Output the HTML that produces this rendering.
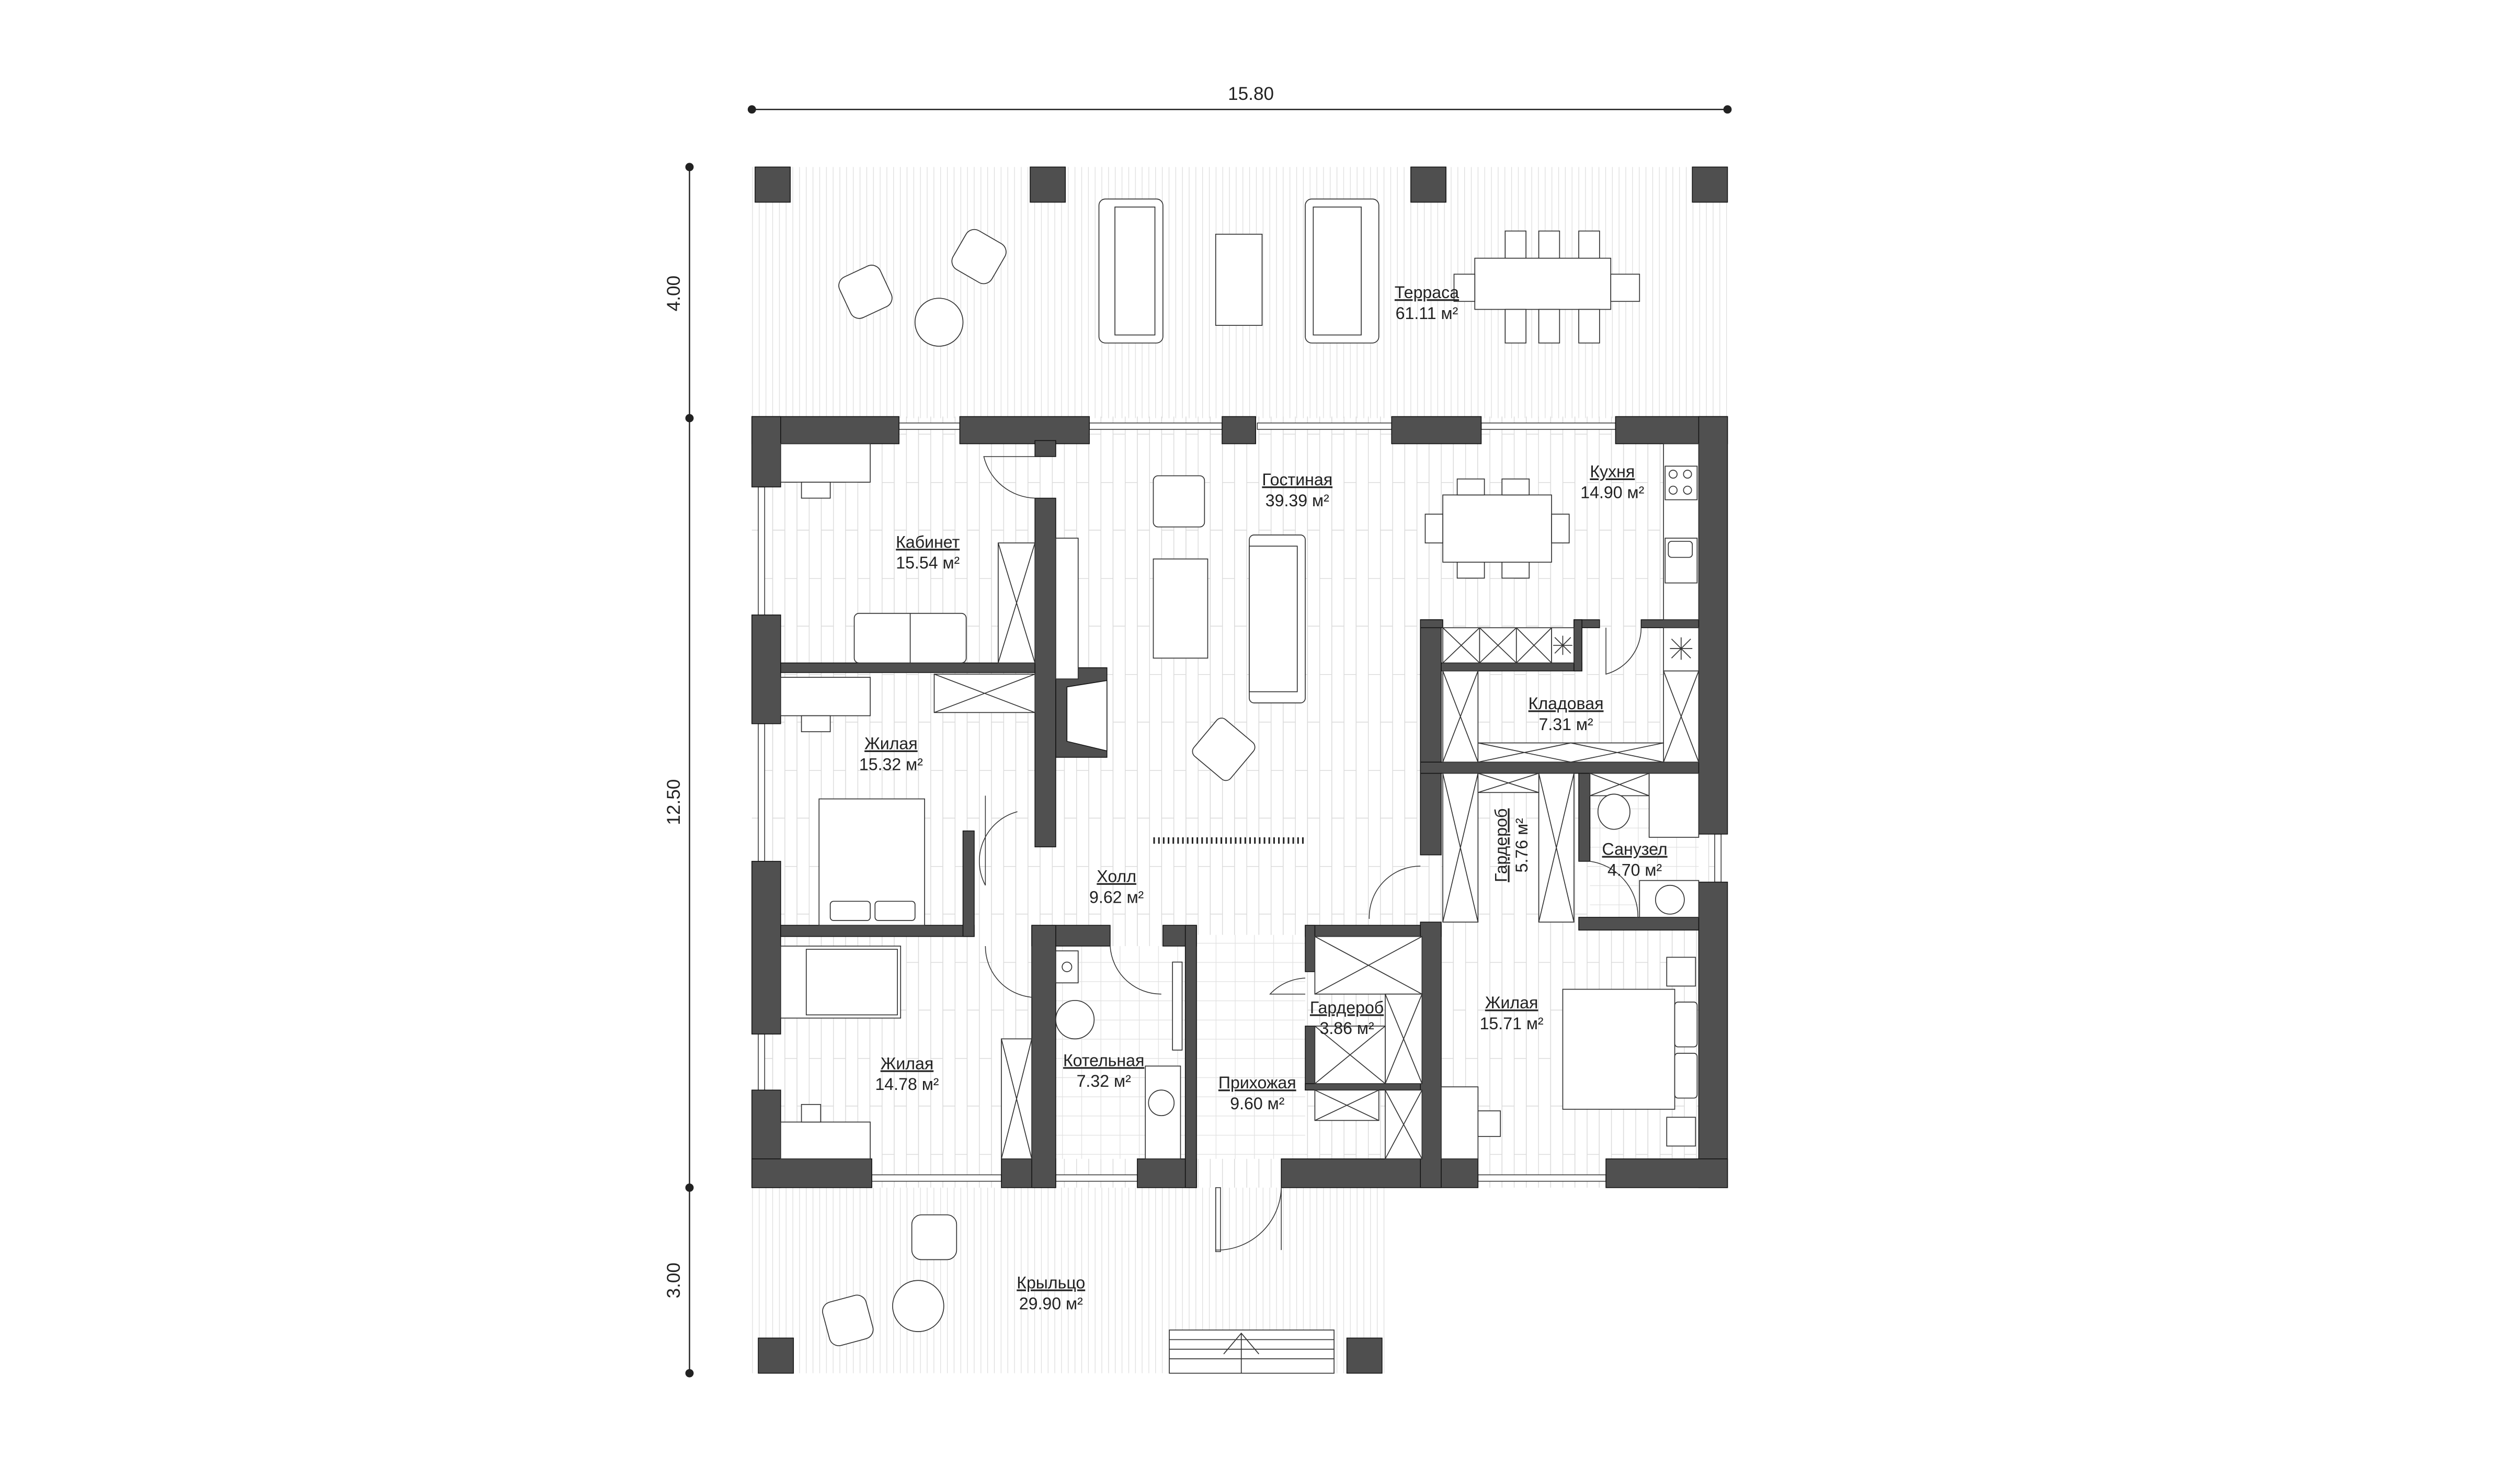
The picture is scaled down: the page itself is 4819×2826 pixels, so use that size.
<!DOCTYPE html>
<html><head><meta charset="utf-8"><style>
html,body{margin:0;padding:0;background:#fff}
svg{display:block}
text{font-family:"Liberation Sans",sans-serif;fill:#222}
</style></head><body>
<svg width="4819" height="2826" viewBox="-4.1 -1.4 1575.6 923.9" preserveAspectRatio="none" xmlns="http://www.w3.org/2000/svg">
<defs>
<pattern id="pl" width="15.2" height="60" patternUnits="userSpaceOnUse">
<path d="M0.2 0V60M7.8 0V60M0 0.2H7.6M7.6 30H15.2" stroke="#d9d9d9" stroke-width="0.5" fill="none"/>
</pattern>
<pattern id="tr" width="4.2" height="200" patternUnits="userSpaceOnUse">
<path d="M0.2 0V200" stroke="#dcdcdc" stroke-width="0.4"/>
</pattern>
<pattern id="tl" width="12" height="12" patternUnits="userSpaceOnUse">
<path d="M0 0.2H12M0.2 0V12" stroke="#e0e0e0" stroke-width="0.4" fill="none"/>
</pattern>
</defs>
<rect x="-10" y="-10" width="1600" height="950" fill="#fff"/>

<!-- dimensions -->
<g stroke="#222" stroke-width="0.8" fill="#222">
<line x1="466" y1="67" x2="1076" y2="67"/>
<circle cx="466" cy="67" r="2.2"/><circle cx="1076" cy="67" r="2.2"/>
<line x1="427" y1="103" x2="427" y2="857"/>
<circle cx="427" cy="103" r="2.2"/><circle cx="427" cy="260" r="2.2"/><circle cx="427" cy="741" r="2.2"/><circle cx="427" cy="857" r="2.2"/>
</g>
<text x="778" y="61" font-size="11.5" text-anchor="middle">15.80</text>
<text transform="translate(421,182) rotate(-90)" font-size="11.5" text-anchor="middle">4.00</text>
<text transform="translate(421,500) rotate(-90)" font-size="11.5" text-anchor="middle">12.50</text>
<text transform="translate(421,799) rotate(-90)" font-size="11.5" text-anchor="middle">3.00</text>

<!-- floors -->
<rect x="466" y="103" width="610" height="157" fill="url(#tr)"/>
<rect x="466" y="741" width="396" height="116" fill="url(#tr)"/>
<rect x="466" y="259" width="610" height="482" fill="url(#pl)"/>
<rect x="744" y="583" width="68" height="140" fill="#fff"/>
<rect x="744" y="583" width="68" height="140" fill="url(#tl)"/>
<rect x="656" y="590" width="81" height="133" fill="#fff"/>
<rect x="656" y="590" width="81" height="133" fill="url(#tl)"/>
<rect x="990" y="482" width="68" height="90" fill="#fff"/>
<rect x="990" y="482" width="68" height="90" fill="url(#tl)"/>

<!-- columns -->
<g fill="#4f4f4f" stroke="#111" stroke-width="0.5">
<rect x="468" y="103" width="22" height="22"/><rect x="640" y="103" width="22" height="22"/>
<rect x="878" y="103" width="22" height="22"/><rect x="1054" y="103" width="22" height="22"/>
<rect x="470" y="835" width="22" height="22"/><rect x="838" y="835" width="22" height="22"/>
</g>

<!-- windows -->
<g fill="#fff" stroke="#333" stroke-width="0.5">
<rect x="558" y="263" width="38" height="4"/><rect x="677" y="263" width="83" height="4"/>
<rect x="782" y="263" width="84" height="4"/><rect x="922" y="263" width="84" height="4"/>
<rect x="470" y="303" width="4" height="80"/><rect x="470" y="451" width="4" height="86"/>
<rect x="470" y="645" width="4" height="35"/>
<rect x="1068" y="520" width="4" height="30"/>
<rect x="541" y="733" width="81" height="4"/><rect x="656" y="733" width="51" height="4"/>
<rect x="920" y="733" width="80" height="4"/>
</g>

<!-- walls -->
<g fill="#505050" stroke="#111" stroke-width="0.5">
<rect x="466" y="259" width="92" height="17"/><rect x="596" y="259" width="81" height="17"/>
<rect x="760" y="259" width="21" height="17"/><rect x="866" y="259" width="56" height="17"/>
<rect x="1006" y="259" width="70" height="17"/>
<rect x="466" y="259" width="18" height="44"/><rect x="466" y="383" width="18" height="68"/>
<rect x="466" y="537" width="18" height="108"/><rect x="466" y="680" width="18" height="61"/>
<rect x="1058" y="259" width="18" height="261"/><rect x="1058" y="550" width="18" height="191"/>
<rect x="466" y="723" width="75" height="18"/><rect x="622" y="723" width="34" height="18"/>
<rect x="707" y="723" width="37" height="18"/><rect x="797" y="723" width="123" height="18"/>
<rect x="1000" y="723" width="76" height="18"/>
<rect x="643" y="274" width="13" height="10"/>
<rect x="484" y="413" width="161" height="6"/>
<rect x="643" y="310" width="13" height="218"/>
<rect x="656" y="416" width="32" height="56"/>
<rect x="484" y="577" width="121" height="7"/><rect x="598" y="518" width="7" height="66"/>
<rect x="641" y="577" width="49" height="13"/><rect x="641" y="577" width="15" height="164"/>
<rect x="723" y="577" width="21" height="13"/><rect x="737" y="577" width="7" height="164"/>
<rect x="812" y="577" width="85" height="7"/><rect x="812" y="577" width="6" height="29"/>
<rect x="812" y="640" width="6" height="40"/><rect x="812" y="676" width="73" height="4"/>
<rect x="884" y="386" width="13" height="147"/><rect x="884" y="575" width="13" height="166"/>
<rect x="884" y="386" width="14" height="5"/>
<rect x="897" y="413" width="88" height="5"/><rect x="980" y="386" width="16" height="5"/>
<rect x="980" y="386" width="5" height="32"/><rect x="1022" y="386" width="36" height="5"/>
<rect x="884" y="475" width="174" height="7"/>
<rect x="983" y="482" width="7" height="55"/><rect x="983" y="572" width="75" height="8"/>
</g>
<path d="M663 428L688 424V468L663 462Z" fill="#fff" stroke="#111" stroke-width="0.5"/>

<!-- doors -->
<g fill="none" stroke="#333" stroke-width="0.5">
<path d="M643 310A34 34 0 0 1 611 284H643"/>
<path d="M612 496V552A32 32 0 0 1 632 506"/>
<path d="M612 590A32 32 0 0 0 641 622V590"/>
<path d="M690 590A32 32 0 0 0 722 620"/>
<path d="M852 573A32 32 0 0 1 884 540"/>
<path d="M812 610A32 32 0 0 0 790 620H812"/>
<path d="M990 537A35 35 0 0 1 1020 572H1018"/>
<path d="M1000 391V420A30 30 0 0 0 1022 391"/>
<path d="M756 741V780A40 40 0 0 0 797 741M797 741V780"/>
<rect x="756" y="741" width="3" height="40"/>
</g>

<!-- furniture -->
<g fill="#fff" stroke="#333" stroke-width="0.55">
<rect x="683" y="123" width="40" height="90" rx="4"/><rect x="693" y="128" width="25" height="80"/>
<rect x="812" y="123" width="46" height="90" rx="4"/><rect x="817" y="128" width="30" height="80"/>
<rect x="756" y="145" width="29" height="57"/>
<rect x="918" y="160" width="85" height="32"/>
<rect x="937" y="143" width="13" height="17"/><rect x="958" y="143" width="13" height="17"/><rect x="983" y="143" width="13" height="17"/>
<rect x="937" y="192" width="13" height="21"/><rect x="958" y="192" width="13" height="21"/><rect x="983" y="192" width="13" height="21"/>
<rect x="905" y="170" width="13" height="17"/><rect x="1003" y="170" width="18" height="17"/>
<circle cx="583" cy="200" r="15"/>
<rect x="523" y="167" width="28" height="28" rx="6" transform="rotate(-25 537 181)"/>
<rect x="594" y="145" width="28" height="28" rx="6" transform="rotate(30 608 159)"/>
<rect x="484" y="276" width="56" height="24"/><rect x="497" y="300" width="18" height="10"/>
<rect x="530" y="382" width="70" height="31" rx="3"/><line x1="565" y1="382" x2="565" y2="413"/>
<rect x="620" y="338" width="23" height="75"/><path d="M620 338L643 413M643 338L620 413"/>
<rect x="656" y="335" width="14" height="88"/>
<rect x="717" y="296" width="32" height="32" rx="3"/>
<rect x="717" y="348" width="34" height="62"/>
<rect x="777" y="333" width="35" height="105" rx="3"/><rect x="777" y="340" width="30" height="91"/>
<rect x="746" y="452" width="30" height="30" rx="4" transform="rotate(40 761 467)"/>
<rect x="484" y="422" width="56" height="24"/><rect x="497" y="446" width="18" height="10"/>
<rect x="580" y="420" width="63" height="24"/><path d="M580 420L643 444M643 420L580 444"/>
<rect x="508" y="498" width="66" height="79"/>
<rect x="515" y="562" width="25" height="12" rx="2"/><rect x="543" y="562" width="25" height="12" rx="2"/>
<rect x="484" y="590" width="75" height="45"/><rect x="500" y="592" width="57" height="41"/>
<rect x="484" y="700" width="56" height="23"/><rect x="497" y="689" width="12" height="11"/>
<rect x="622" y="648" width="19" height="75"/><path d="M622 648L641 723M641 648L622 723"/>
<rect x="656" y="593" width="14" height="20"/><circle cx="663" cy="603" r="3"/>
<circle cx="668" cy="636" r="12"/>
<rect x="712" y="665" width="22" height="58"/><circle cx="722" cy="688" r="8"/>
<rect x="729" y="600" width="6" height="55"/>
<rect x="818" y="584" width="67" height="36"/><path d="M818 584L885 620M885 584L818 620"/>
<rect x="862" y="620" width="23" height="56"/><path d="M862 620L885 676M885 620L862 676"/>
<rect x="818" y="640" width="44" height="36"/><path d="M818 640L862 676M862 640L818 676"/>
<rect x="818" y="680" width="40" height="19"/><path d="M818 680L858 699M858 680L818 699"/>
<rect x="862" y="680" width="23" height="43"/><path d="M862 680L885 723M885 680L862 723"/>
<rect x="898" y="308" width="68" height="42"/>
<rect x="907" y="298" width="17" height="10"/><rect x="935" y="298" width="17" height="10"/>
<rect x="907" y="350" width="17" height="10"/><rect x="935" y="350" width="17" height="10"/>
<rect x="887" y="320" width="11" height="18"/><rect x="966" y="320" width="11" height="18"/>
<rect x="1036" y="276" width="22" height="110"/>
<rect x="1037" y="290" width="20" height="21"/>
<circle cx="1042" cy="295" r="2.5"/><circle cx="1051" cy="295" r="2.5"/><circle cx="1042" cy="305" r="2.5"/><circle cx="1051" cy="305" r="2.5"/>
<rect x="1037" y="335" width="20" height="28"/><rect x="1039" y="337" width="15" height="10" rx="2"/>
<rect x="898" y="391" width="23" height="22"/><path d="M898 391L921 413M921 391L898 413"/>
<rect x="921" y="391" width="23" height="22"/><path d="M921 391L944 413M944 391L921 413"/>
<rect x="944" y="391" width="22" height="22"/><path d="M944 391L966 413M966 391L944 413"/>
<rect x="966" y="391" width="14" height="22"/><path d="M967 402H979M973 396V408M968 397L978 407M978 397L968 407"/>
<rect x="1036" y="391" width="22" height="27"/><path d="M1040 404H1054M1047 397V411M1041 398L1053 410M1053 398L1041 410"/>
<rect x="898" y="418" width="22" height="57"/><path d="M898 418L920 475M920 418L898 475"/>
<rect x="1036" y="418" width="22" height="57"/><path d="M1036 418L1058 475M1058 418L1036 475"/>
<rect x="920" y="463" width="116" height="12"/><path d="M920 463L978 475M978 463L920 475M978 463L1036 475M1036 463L978 475"/>
<rect x="898" y="482" width="22" height="93"/><path d="M898 482L920 575M920 482L898 575"/>
<rect x="958" y="482" width="22" height="93"/><path d="M958 482L980 575M980 482L958 575"/>
<rect x="920" y="482" width="38" height="12"/><path d="M920 482L958 494M958 482L920 494"/>
<rect x="990" y="482" width="37" height="14"/><path d="M990 482L1027 496M1027 482L990 496"/>
<ellipse cx="1005" cy="506" rx="10" ry="11"/>
<rect x="1027" y="482" width="31" height="40"/>
<rect x="1021" y="549" width="37" height="23"/><circle cx="1040" cy="561" r="9"/>
<rect x="973" y="617" width="70" height="75"/><rect x="1043" y="625" width="14" height="28" rx="2"/><rect x="1043" y="657" width="14" height="28" rx="2"/>
<rect x="1038" y="597" width="18" height="18"/><rect x="1038" y="697" width="18" height="18"/>
<rect x="897" y="678" width="23" height="45"/><rect x="920" y="693" width="14" height="16"/>
<circle cx="570" cy="815" r="16"/>
<rect x="566" y="758" width="28" height="28" rx="6"/>
<rect x="512" y="810" width="28" height="28" rx="6" transform="rotate(-15 526 824)"/>
<rect x="727" y="830" width="103" height="27"/>
<path d="M727 836H830M727 842H830M727 848H830M761 845L772 832L783 845M772 832V857"/>
</g>
<path d="M717 524H812" stroke="#222" stroke-width="4" stroke-dasharray="1 2"/>

<!-- labels -->
<g font-size="10.5" text-anchor="middle">
<text x="888" y="185" text-decoration="underline">Терраса</text><text x="888" y="198">61.11 м²</text>
<text x="807" y="302" text-decoration="underline">Гостиная</text><text x="807" y="315">39.39 м²</text>
<text x="1004" y="297" text-decoration="underline">Кухня</text><text x="1004" y="310">14.90 м²</text>
<text x="576" y="341" text-decoration="underline">Кабинет</text><text x="576" y="354">15.54 м²</text>
<text x="975" y="442" text-decoration="underline">Кладовая</text><text x="975" y="455">7.31 м²</text>
<text x="553" y="467" text-decoration="underline">Жилая</text><text x="553" y="480">15.32 м²</text>
<text transform="translate(938,527) rotate(-90)" text-decoration="underline">Гардероб</text>
<text transform="translate(951,527) rotate(-90)">5.76 м²</text>
<text x="1018" y="533" text-decoration="underline">Санузел</text><text x="1018" y="546">4.70 м²</text>
<text x="694" y="550" text-decoration="underline">Холл</text><text x="694" y="563">9.62 м²</text>
<text x="838" y="632" text-decoration="underline">Гардероб</text><text x="838" y="645">3.86 м²</text>
<text x="941" y="629" text-decoration="underline">Жилая</text><text x="941" y="642">15.71 м²</text>
<text x="686" y="665" text-decoration="underline">Котельная</text><text x="686" y="678">7.32 м²</text>
<text x="563" y="667" text-decoration="underline">Жилая</text><text x="563" y="680">14.78 м²</text>
<text x="782" y="679" text-decoration="underline">Прихожая</text><text x="782" y="692">9.60 м²</text>
<text x="653" y="804" text-decoration="underline">Крыльцо</text><text x="653" y="817">29.90 м²</text>
</g>
</svg>
</body></html>
